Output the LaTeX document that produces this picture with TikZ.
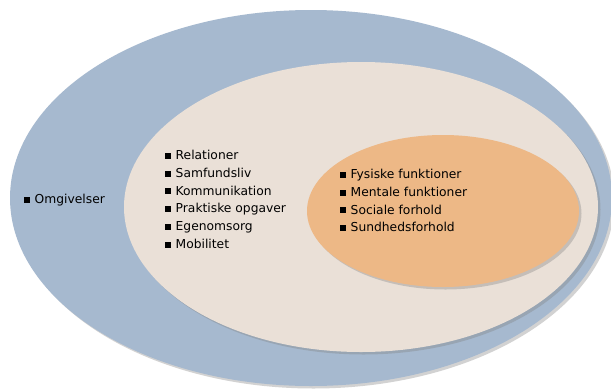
\documentclass[tikz,border=0pt]{standalone}
\usepackage{fontspec}
\setmainfont{DejaVu Sans}
\usetikzlibrary{shadows}

\definecolor{omgblue}{HTML}{A6B9CF}
\definecolor{midbeige}{HTML}{EAE0D7}
\definecolor{innerorange}{HTML}{EDB886}

\newcommand{\blt}{\raisebox{0.8pt}{\rule{6pt}{6pt}}\hspace{4.5pt}}

\begin{document}
\begin{tikzpicture}[x=1pt, y=-1pt,
		ring/.style={drop shadow={shadow xshift=2.5pt, shadow yshift=-2.5pt, opacity=0.35}},
		itemlist/.style={anchor=north west, inner sep=0pt, align=left,
			font=\fontsize{12.3}{17.8}\selectfont}]
		\useasboundingbox (0,0) rectangle (611,389);
		\fill[white] (0,0) rectangle (611,389);

		% ellipses, outside in
		\fill[omgblue, ring] (311,198) ellipse [x radius=301, y radius=188];
		\fill[midbeige, ring] (361,207) ellipse [x radius=237, y radius=145];
		\fill[innerorange, ring] (443,211) ellipse [x radius=136, y radius=76];

		% labels
		\node[itemlist] (omg) at (24,194) {\blt Omgivelser};
		\node[itemlist] (aktiv) at (165,150) {\blt Relationer\\ \blt Samfundsliv\\ \blt Kommunikation\\
			\blt Praktiske opgaver\\ \blt Egenomsorg\\ \blt Mobilitet};
		\node[itemlist] (krop) at (340,169) {\blt Fysiske funktioner\\ \blt Mentale funktioner\\
			\blt Sociale forhold\\ \blt Sundhedsforhold};
	\end{tikzpicture}
\end{document}
